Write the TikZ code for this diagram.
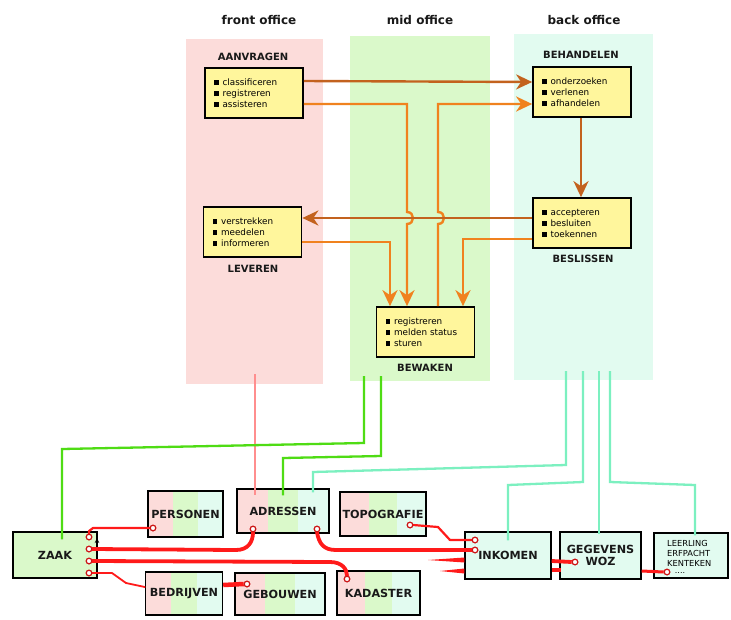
\documentclass[tikz,border=0pt]{standalone}
\usepackage{fontspec}
\setmainfont{DejaVu Sans}
\usetikzlibrary{arrows.meta,calc}

\definecolor{colpink}{HTML}{FCDCDA}
\definecolor{colgreen}{HTML}{DAF9CA}
\definecolor{colmint}{HTML}{E2FBF0}
\definecolor{boxyellow}{HTML}{FFF69C}
\definecolor{brownarrow}{HTML}{C3621E}
\definecolor{orangearrow}{HTML}{F0821E}
\definecolor{wirered}{HTML}{FF1A1A}
\definecolor{linkgreen}{HTML}{4FDC14}
\definecolor{linkpink}{HTML}{FF8E8E}
\definecolor{linkmint}{HTML}{7CF0C0}

% square bullet in front of each task
\newcommand\itm{\rule[0.05ex]{4.6pt}{4.6pt}\hspace{4pt}}

\begin{document}
\begin{tikzpicture}[x=1pt,y=-1pt,
  officecol/.style={draw=none, inner sep=0pt, anchor=north west},
  hdr/.style={font=\fontsize{12}{14}\selectfont\bfseries, text=black!90},
  lbl/.style={font=\fontsize{10}{12}\selectfont\bfseries, text=black!90},
  ybox/.style={draw, line width=1.7pt, fill=boxyellow, minimum height=50pt,
    text width=80pt, inner xsep=9pt, align=left,
    font=\fontsize{8.8}{11}\selectfont},
  flow/.style={line width=2.4pt, -{Stealth[length=16pt,width=15pt,inset=5pt]}},
  bflow/.style={flow, draw=brownarrow},
  oflow/.style={flow, draw=orangearrow},
  dbox/.style={draw, line width=1.4pt, inner sep=0pt,
    font=\fontsize{11.2}{12.5}\selectfont\bfseries, text=black!90, align=center},
  tri/.style={dbox, path picture={
      \coordinate (sw) at (path picture bounding box.south west);
      \coordinate (ne) at (path picture bounding box.north east);
      \coordinate (ta) at ($(sw)!1/3!(sw -| ne)$);
      \coordinate (tb) at ($(sw)!2/3!(sw -| ne)$);
      \fill[colpink] (sw) rectangle (ta |- ne);
      \fill[colgreen] (ta) rectangle (tb |- ne);
      \fill[colmint] (tb) rectangle (ne);}},
  plug/.style={circle, draw=wirered!80!black, fill=white, line width=1.1pt,
    minimum size=5.5pt, inner sep=0pt},
  wire/.style={draw=wirered, line width=2.2pt, line cap=round, line join=round},
  thickwire/.style={wire, line width=3.8pt},
  glink/.style={draw=linkgreen, line width=2.3pt},
  plink/.style={draw=linkpink, line width=2pt},
  mlink/.style={draw=linkmint, line width=2.3pt}]

\useasboundingbox (0,0) rectangle (731,619);
\fill[white] (0,0) rectangle (731,619);

% office columns
\node[officecol, fill=colpink, minimum width=137pt, minimum height=345pt] (front) at (186,39) {};
\node[officecol, fill=colgreen, minimum width=140pt, minimum height=345pt] (mid) at (350,36) {};
\node[officecol, fill=colmint, minimum width=139pt, minimum height=346pt] (back) at (514,34) {};

\node[hdr] (hfront) at (259,20) {front office};
\node[hdr] (hmid) at (420,20) {mid office};
\node[hdr] (hback) at (584,20) {back office};

% process steps
\node[ybox] (aanv) at (254,93) {\itm classificeren\\\itm registreren\\\itm assisteren};
\node[ybox] (behan) at (582,92) {\itm onderzoeken\\\itm verlenen\\\itm afhandelen};
\node[ybox] (besl) at (582,223) {\itm accepteren\\\itm besluiten\\\itm toekennen};
\node[ybox] (lev) at (252.5,232) {\itm verstrekken\\\itm meedelen\\\itm informeren};
\node[ybox] (bew) at (425.5,332) {\itm registreren\\\itm melden status\\\itm sturen};

\node[lbl] (laanv) at (253,57) {AANVRAGEN};
\node[lbl] (lbehan) at (581,55) {BEHANDELEN};
\node[lbl] (lbesl) at (583,259) {BESLISSEN};
\node[lbl] (llev) at (253,269) {LEVEREN};
\node[lbl] (lbew) at (425,368) {BEWAKEN};

% flows between the steps
\draw[bflow] (aanv.east |- 0,81) -- (behan.west |- 0,82);
\draw[oflow] (aanv.east |- 0,104) -- (407,104) -- (407,212)
  .. controls (415,212) and (415,224) .. (407,224) -- (407,0 |- bew.north);
\draw[oflow] (438,0 |- bew.north) -- (438,224)
  .. controls (446,224) and (446,212) .. (438,212) -- (438,104) -- (behan.west |- 0,104);
\draw[bflow] (581,0 |- behan.south) -- (581,0 |- besl.north);
\draw[bflow] (besl.west |- 0,218) -- (lev.east |- 0,218);
\draw[oflow] (lev.east |- 0,242) -- (390,242) -- (390,0 |- bew.north);
\draw[oflow] (besl.west |- 0,239) -- (463,239) -- (463,0 |- bew.north);

% registers
\node[tri, minimum width=75pt, minimum height=46pt] (pers) at (185.5,514) {PERSONEN};
\node[tri, minimum width=92pt, minimum height=44pt] (adr) at (283,511) {ADRESSEN};
\node[tri, minimum width=86pt, minimum height=44pt] (topo) at (383,514) {TOPOGRAFIE};
\node[tri, minimum width=77pt, minimum height=43pt] (bedr) at (184,593.5) {BEDRIJVEN};
\node[tri, minimum width=90pt, minimum height=42pt] (geb) at (280,594) {GEBOUWEN};
\node[tri, minimum width=83pt, minimum height=44pt] (kad) at (378.5,593) {KADASTER};
\node[dbox, fill=colgreen, minimum width=84pt, minimum height=46pt] (zaak) at (55,555) {ZAAK};
\node[dbox, fill=colmint, minimum width=86pt, minimum height=47pt] (ink) at (508,555.5) {INKOMEN};
\node[dbox, fill=colmint, minimum width=81pt, minimum height=47pt] (woz) at (600.5,555.5) {GEGEVENS\\[-1pt]WOZ};
\node[dbox, fill=colmint, minimum width=74pt, minimum height=45pt] (leer) at (691,555.5) {};
\node[font=\fontsize{8.3}{10}\selectfont, align=left, anchor=west, inner sep=0pt] (leertxt) at (667,553)
  {LEERLING\\ERFPACHT\\KENTEKEN};
\node[font=\fontsize{8}{8}\selectfont, inner sep=0pt] (leerdots) at (680,573) {....};

% links from the offices to the registers
\coordinate (g1) at (364,376);
\coordinate (g2) at (381,376);
\coordinate (p1) at (255,374);
\coordinate (m1) at (566,371);
\coordinate (m2) at (583,371);
\coordinate (m3) at (599,371);
\coordinate (m4) at (610,371);
\draw[plink] (p1) -- ($(255,0 |- adr.north)+(0,7)$);
\draw[glink] (g1) -- (364,443) -- (62,449) -- ($(62,0 |- zaak.north)+(0,8)$);
\draw[glink] (g2) -- (381,456) -- (283,458) -- ($(283,0 |- adr.north)+(0,7)$);
\draw[mlink] (m1) -- (566,465) -- (313,472) -- ($(313,0 |- adr.north)+(0,4)$);
\draw[mlink] (m2) -- (583,482) -- (508,485) -- ($(508,0 |- ink.north)+(0,9)$);
\draw[mlink] (m3) -- ($(599,0 |- woz.north)+(0,3)$);
\draw[mlink] (m4) -- (610,482) -- (695,485) -- ($(695,0 |- leer.north)+(0,3)$);

% sketch stroke on the ZAAK box edge
\draw[line width=1.3pt, -{Stealth[length=5pt,width=4.5pt]}] (97,575) -- (97,538);

% plugs
\node[plug] (z1) at (89,537) {};
\node[plug] (z2) at (89,549) {};
\node[plug] (z3) at (89,561) {};
\node[plug] (z4) at (89,573) {};
\node[plug] (pp) at (153,528) {};
\node[plug] (ap1) at (253,529) {};
\node[plug] (ap2) at (317,529) {};
\node[plug] (tp) at (410,525) {};
\node[plug] (kp) at (347,579) {};
\node[plug] (gp) at (247,584) {};
\node[plug] (ip1) at (475,540) {};
\node[plug] (ip2) at (475,550) {};
\node[plug] (wp) at (575,562) {};
\node[plug] (lp) at (667,572) {};

% red wiring between the registers
\draw[wire] (z1.north) -- (89,531) -- (93,528) -- (pp.west);
\draw[thickwire] (z2.east) -- (236,550) .. controls (248,550) and (253,542) .. (ap1.south);
\draw[thickwire] (z3.east) -- (330,562) .. controls (342,562) and (347,569) .. (kp.north);
\draw[wire, line width=1.8pt] (z4.east) -- (112,573) -- (126,583) -- (bedr.west |- 0,587);
\draw[thickwire] (ap2.south) .. controls (319,544) and (324,550) .. (336,550) -- (ip2.west);
\draw[wire] (tp.east) -- (438,527) -- (450,540) -- (ip1.west);
\fill[wirered] (428,560) -- (ink.west |- 0,557.5) -- (ink.west |- 0,562.5) -- cycle;
\fill[wirered] (440,571) -- (ink.west |- 0,568.5) -- (ink.west |- 0,573.5) -- cycle;
\draw[thickwire, line width=4.5pt, line cap=butt] (bedr.east |- 0,585) -- (gp.west);
\draw[thickwire, line cap=butt] (ink.east |- 0,561) -- (wp.west);
\draw[thickwire, line cap=butt] (ink.east |- 0,570) -- (561,570);
\draw[wire, line width=3pt, line cap=butt] (woz.east |- 0,571) -- (lp.west);

% plugs on top of the wiring
\foreach \p in {z1,z2,z3,z4,pp,ap1,ap2,tp,kp,gp,ip1,ip2,wp,lp}
  \node[plug] at (\p) {};

\end{tikzpicture}
\end{document}
